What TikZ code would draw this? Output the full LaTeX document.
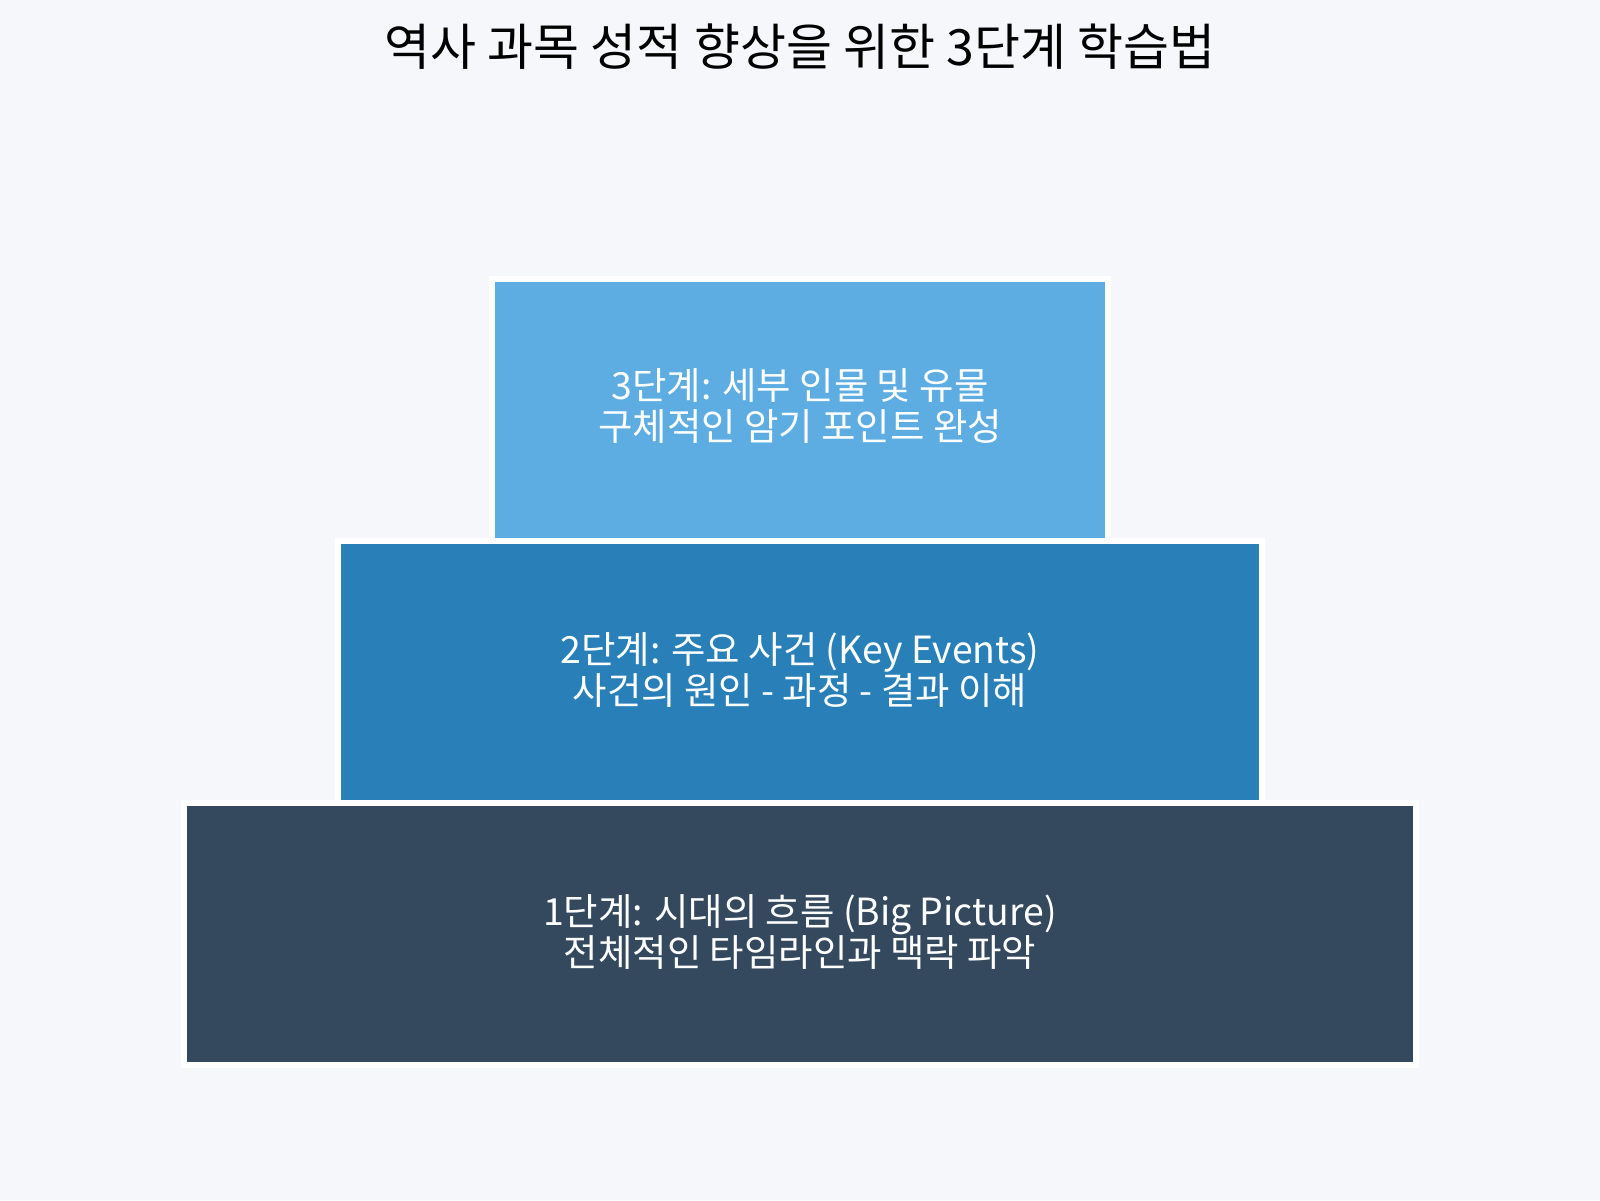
\documentclass[tikz,border=0pt]{standalone}
\usepackage{fontspec}
\setmainfont{Noto Sans CJK KR}
\definecolor{bgc}{HTML}{F5F7FA}
\definecolor{c3}{HTML}{5DADE2}
\definecolor{c2}{HTML}{2980B9}
\definecolor{c1}{HTML}{34495E}
\tikzset{
  tier/.style={draw=white, line width=3pt},
  tiertext/.style={text=white, align=center, font=\fontsize{18.7}{20.3}\selectfont},
  ttl/.style={text=black, font=\fontsize{25}{28}\selectfont}
}
\begin{document}
\begin{tikzpicture}[x=0.5pt,y=-0.5pt]
\fill[bgc] (0,0) rectangle (1600,1200);
\useasboundingbox (0,0) rectangle (1600,1200);
\node[ttl] (title) at (800,47) {역사 과목 성적 향상을 위한 3단계 학습법};
\path[tier, fill=c3] (492,279) rectangle (1108,541);
\path[tier, fill=c2] (338,541) rectangle (1262,803);
\path[tier, fill=c1] (184,803) rectangle (1416,1065);
\node[tiertext] (t3) at (800,406) {3단계: 세부 인물 및 유물\\구체적인 암기 포인트 완성};
\node[tiertext] (t2) at (800,670) {2단계: 주요 사건 (Key Events)\\사건의 원인 - 과정 - 결과 이해};
\node[tiertext] (t1) at (800,932) {1단계: 시대의 흐름 (Big Picture)\\전체적인 타임라인과 맥락 파악};
\end{tikzpicture}
\end{document}
